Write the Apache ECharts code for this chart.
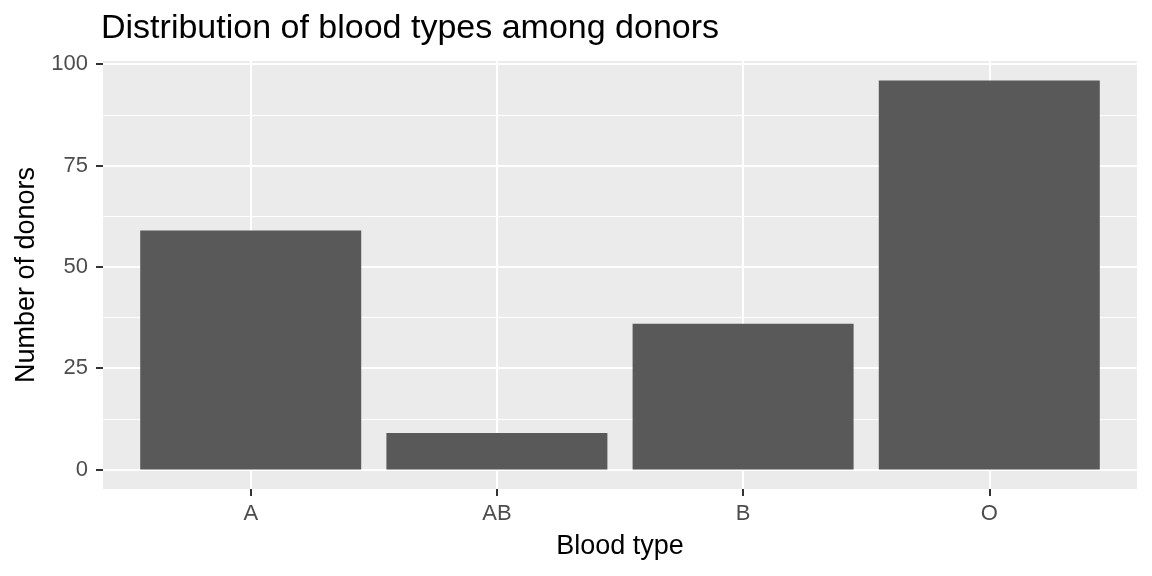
<!DOCTYPE html>
<html lang="en">
<head>
    <meta charset="UTF-8">
    <title>Distribution of blood types among donors</title>
    <style type="text/css">
        html, body { margin: 0; padding: 0; background: #ffffff; }
        #main { width: 1152px; height: 576px; }
    </style>
    <script src="https://cdn.jsdelivr.net/npm/echarts@6/dist/echarts.min.js"></script>
</head>
<body>
    <div id="main"></div>
    <script type="text/javascript">
        // data
        var bloodTypes = ['A', 'AB', 'B', 'O'];
        var donorCounts = [59, 9, 36, 96];
        var yTicks = [0, 25, 50, 75, 100];
        var yMinorTicks = [12.5, 37.5, 62.5, 87.5];
        var xTicks = [1, 2, 3, 4];

        var font = '"Liberation Sans", Arial, sans-serif';
        var barData = donorCounts.map(function (v, i) { return [xTicks[i], v]; });

        var myChart = echarts.init(document.getElementById('main'));
        var option = {
            animation: false,
            title: {
                text: 'Distribution of blood types among donors',
                left: 96,
                top: 7,
                textStyle: { fontFamily: font, fontSize: 34, fontWeight: 'normal', color: '#000000' }
            },
            grid: {
                left: 103, right: 15, top: 61, bottom: 87,
                show: true, backgroundColor: '#EBEBEB', borderWidth: 0
            },
            xAxis: {
                type: 'value',
                min: 0.4,
                max: 4.6,
                name: 'Blood type',
                nameLocation: 'middle',
                nameGap: 44,
                nameTextStyle: { fontFamily: font, fontSize: 27, color: '#000000' },
                axisLine: { show: false, onZero: false },
                axisTick: { show: true, inside: false, length: 7, customValues: xTicks, lineStyle: { color: '#333333', width: 2 } },
                axisLabel: {
                    customValues: xTicks, margin: 14,
                    fontFamily: font, fontSize: 22, color: '#4D4D4D',
                    formatter: function (v) { return bloodTypes[Math.round(v) - 1]; }
                },
                splitLine: { show: true, lineStyle: { color: '#FFFFFF', width: 2 } }
            },
            yAxis: [{
                type: 'value',
                min: -4.8,
                max: 100.8,
                name: 'Number of donors',
                nameLocation: 'middle',
                nameGap: 62,
                nameTextStyle: { fontFamily: font, fontSize: 27, color: '#000000' },
                axisLine: { show: false },
                axisTick: { show: true, length: 7, customValues: yTicks, lineStyle: { color: '#333333', width: 2 } },
                axisLabel: { customValues: yTicks, margin: 15, fontFamily: font, fontSize: 22, color: '#4D4D4D' },
                splitLine: { show: true, lineStyle: { color: '#FFFFFF', width: 2 } }
            }, {
                type: 'value',
                min: -4.8,
                max: 100.8,
                position: 'left',
                axisLine: { show: false },
                axisTick: { show: false, customValues: yMinorTicks },
                axisLabel: { show: false, customValues: yMinorTicks },
                splitLine: { show: true, lineStyle: { color: '#FFFFFF', width: 1 } }
            }],
            series: [{
                type: 'bar',
                data: barData,
                barWidth: 221,
                itemStyle: { color: '#595959' },
                z: 3
            }]
        };
        myChart.setOption(option);
    </script>
</body>
</html>
